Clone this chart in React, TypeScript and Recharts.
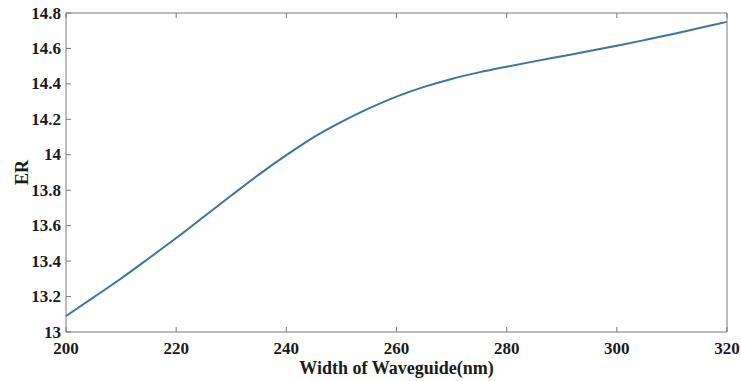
import React from 'react';
import { LineChart, Line, XAxis, YAxis } from 'recharts';

// width of waveguide (nm) and extinction ratio
const widths = [200, 205, 210, 215, 220, 225, 230, 235, 240, 245, 250, 255, 260, 265, 270, 275, 280, 285, 290, 295, 300, 305, 310, 315, 320];
const erValues = [13.09, 13.195, 13.302, 13.415, 13.53, 13.65, 13.77, 13.888, 13.998, 14.1, 14.186, 14.262, 14.328, 14.383, 14.428, 14.465, 14.497, 14.527, 14.556, 14.585, 14.615, 14.647, 14.68, 14.715, 14.75];

const xTicks = [200, 220, 240, 260, 280, 300, 320];
const yTicks = [13, 13.2, 13.4, 13.6, 13.8, 14, 14.2, 14.4, 14.6, 14.8];

const data = widths.map((w, i) => ({ width: w, er: erValues[i] }));

const font = 'Liberation Serif';
const axisColor = '#7a7a7a';
const textColor = '#1a1a1a';

const fmtY = (v: number) => (Number.isInteger(v) ? String(v) : v.toFixed(1));

// tick label in bold serif, like the MATLAB figure
const renderTick = (props: any) => {
  const { x, y, payload, textAnchor, orientation } = props;
  const label = orientation === 'left' ? fmtY(payload.value) : String(payload.value);
  return (
    <text
      x={x}
      y={y}
      textAnchor={textAnchor}
      dominantBaseline={orientation === 'bottom' ? 'hanging' : 'central'}
      fontFamily={font}
      fontWeight={700}
      fontSize={17}
      fill={textColor}
    >
      {label}
    </text>
  );
};

// top/right axes only carry the box line and inward ticks
const noTick = () => <g />;

export default function App() {
  return (
    <div style={{ position: 'absolute', left: 0, top: 0, background: '#fff', fontFamily: font }}>
      <LineChart
        width={741}
        height={381}
        data={data}
        margin={{ top: 0, right: 0, left: 0, bottom: 0 }}
      >
        <XAxis
          dataKey="width"
          type="number"
          domain={[200, 320]}
          ticks={xTicks}
          height={49}
          stroke={axisColor}
          tickSize={-5}
          tickMargin={15}
          tick={renderTick}
          label={{
            value: 'Width of Waveguide(nm)',
            position: 'insideBottom',
            offset: 7,
            style: { fontFamily: font, fontWeight: 700, fontSize: 18, fill: textColor },
          }}
        />
        <XAxis
          xAxisId="top"
          dataKey="width"
          type="number"
          orientation="top"
          domain={[200, 320]}
          ticks={xTicks}
          height={13}
          stroke={axisColor}
          tickSize={-5}
          tick={noTick}
        />
        <YAxis
          type="number"
          domain={[13, 14.8]}
          ticks={yTicks}
          width={66}
          stroke={axisColor}
          tickSize={-5}
          tickMargin={10}
          tick={renderTick}
          label={(props: any) => {
            const vb = props.viewBox || { x: 0, y: 13, width: 66, height: 319 };
            const cx = vb.x + 22;
            const cy = vb.y + vb.height / 2;
            return (
              <text
                x={cx}
                y={cy}
                transform={`rotate(-90, ${cx}, ${cy})`}
                textAnchor="middle"
                dominantBaseline="central"
                style={{ fontFamily: font, fontWeight: 700, fontSize: 18, fill: textColor }}
              >
                ER
              </text>
            );
          }}
        />
        <YAxis
          yAxisId="right"
          type="number"
          orientation="right"
          domain={[13, 14.8]}
          ticks={yTicks}
          width={14}
          stroke={axisColor}
          tickSize={-5}
          tick={noTick}
        />
        <Line
          type="monotone"
          dataKey="er"
          stroke="#3e73a5"
          strokeWidth={2}
          dot={false}
          isAnimationActive={false}
        />
      </LineChart>
    </div>
  );
}
